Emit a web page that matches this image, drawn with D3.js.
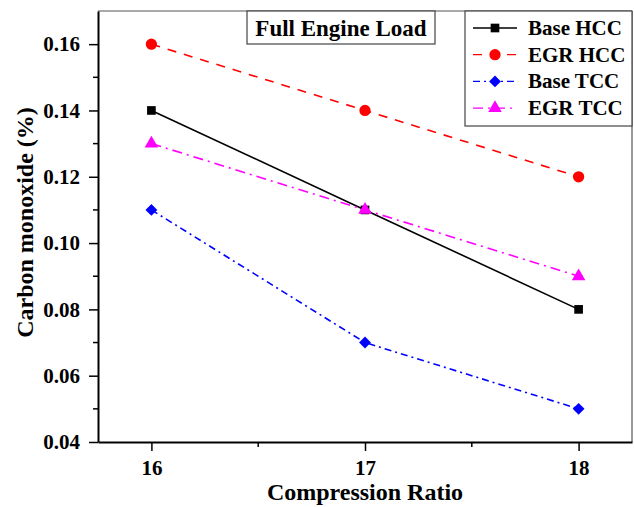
<!DOCTYPE html>
<html>
<head>
<meta charset="utf-8">
<script src="https://cdn.jsdelivr.net/npm/d3@7"></script>
<style>
  body { margin: 0; background: #fff; }
  text { font-family: 'Liberation Serif', 'Times New Roman', serif; font-weight: bold; }
</style>
</head>
<body>
<div id="chart"></div>
<script>
const ratios = [16, 17, 18]
const baseHCC = [0.14, 0.11, 0.08]
const egrHCC = [0.16, 0.14, 0.12]
const baseTCC = [0.11, 0.07, 0.05]
const egrTCC = [0.13, 0.11, 0.09]
const yTicks = [0.04, 0.06, 0.08, 0.10, 0.12, 0.14, 0.16]

// square rotated 45 deg, wider than d3.symbolDiamond
const fatDiamond = {
  draw (context, size) {
    const r = Math.sqrt(size / 2)
    context.moveTo(0, -r)
    context.lineTo(r, 0)
    context.lineTo(0, r)
    context.lineTo(-r, 0)
    context.closePath()
  }
}

const series = [
  { name: 'Base HCC', values: baseHCC, color: '#000000', dash: null, symbol: d3.symbolSquare, size: 75 },
  { name: 'EGR HCC', values: egrHCC, color: '#ff0000', dash: '9,8', symbol: d3.symbolCircle, size: 100 },
  { name: 'Base TCC', values: baseTCC, color: '#0000ff', dash: '7,4,2,4', symbol: fatDiamond, size: 70 },
  { name: 'EGR TCC', values: egrTCC, color: '#ff00ff', dash: '10,5,2,5', symbol: d3.symbolTriangle, size: 80 }
]

const margin = { top: 11, right: 2, bottom: 65, left: 98 }
const width = 634 - margin.left - margin.right
const height = 507 - margin.top - margin.bottom

const svg = d3.select('#chart')
  .append('svg')
  .attr('width', 634)
  .attr('height', 507)
  .append('g')
  .attr('transform', 'translate(' + margin.left + ',' + margin.top + ')')

const x = d3.scaleLinear().domain([15.75, 18.25]).range([0, width])
const y = d3.scaleLinear().domain([0.04, 0.17]).range([height, 0])

// frame: top and right thin
svg.append('line').attr('x1', 0).attr('x2', width).attr('y1', 0).attr('y2', 0)
  .attr('stroke', '#555').attr('stroke-width', 1.2)
svg.append('line').attr('x1', width).attr('x2', width).attr('y1', 0).attr('y2', height)
  .attr('stroke', '#555').attr('stroke-width', 1.2)

// minor ticks
const xMinor = [16.5, 17.5]
const yMinor = [0.05, 0.07, 0.09, 0.11, 0.13, 0.15]
svg.selectAll('.xminor').data(xMinor).enter().append('line')
  .attr('x1', d => x(d)).attr('x2', d => x(d))
  .attr('y1', height).attr('y2', height + 5)
  .attr('stroke', '#000').attr('stroke-width', 1.5)
svg.selectAll('.yminor').data(yMinor).enter().append('line')
  .attr('x1', 0).attr('x2', -5)
  .attr('y1', d => y(d)).attr('y2', d => y(d))
  .attr('stroke', '#000').attr('stroke-width', 1.5)

const xAxis = svg.append('g')
  .attr('transform', 'translate(0,' + height + ')')
  .call(d3.axisBottom(x).tickValues(ratios).tickSize(9).tickSizeOuter(0).tickPadding(9).tickFormat(d3.format('d')))
xAxis.select('.domain').attr('stroke-width', 2)
xAxis.selectAll('.tick line').attr('stroke-width', 1.5)
xAxis.selectAll('text').attr('font-size', 21).attr('fill', '#000')
  .style('font-family', "'Liberation Serif', serif").style('font-weight', 'bold')

const yAxis = svg.append('g')
  .call(d3.axisLeft(y).tickValues(yTicks).tickSize(9).tickSizeOuter(0).tickPadding(9).tickFormat(d3.format('.2f')))
yAxis.select('.domain').attr('stroke-width', 2)
yAxis.selectAll('.tick line').attr('stroke-width', 1.5)
yAxis.selectAll('text').attr('font-size', 21).attr('fill', '#000')
  .style('font-family', "'Liberation Serif', serif").style('font-weight', 'bold')

// axis titles
svg.append('text')
  .attr('x', x(17)).attr('y', height + 58)
  .attr('text-anchor', 'middle').attr('font-size', 24)
  .text('Compression Ratio')
svg.append('text')
  .attr('transform', 'translate(' + (-65) + ',' + (height / 2 - 4) + ') rotate(-90)')
  .attr('text-anchor', 'middle').attr('font-size', 24)
  .text('Carbon monoxide (%)')

// lines
const line = d3.line().x((d, i) => x(ratios[i])).y(d => y(d))
series.forEach(s => {
  svg.append('path')
    .datum(s.values)
    .attr('d', line)
    .attr('fill', 'none')
    .attr('stroke', s.color)
    .attr('stroke-width', 1.6)
    .attr('stroke-dasharray', s.dash)
  svg.selectAll(null)
    .data(s.values)
    .enter()
    .append('path')
    .attr('d', d3.symbol().type(s.symbol).size(s.size))
    .attr('transform', (d, i) => 'translate(' + x(ratios[i]) + ',' + y(d) + ')')
    .attr('fill', s.color)
})

// title box
const title = svg.append('g').attr('transform', 'translate(' + (247 - margin.left) + ',0)')
title.append('rect').attr('width', 188).attr('height', 33)
  .attr('fill', '#fff').attr('stroke', '#444').attr('stroke-width', 1.2)
title.append('text').attr('x', 94).attr('y', 25).attr('text-anchor', 'middle')
  .attr('font-size', 23).text('Full Engine Load')

// legend
const legend = svg.append('g').attr('transform', 'translate(' + (465 - margin.left) + ',0)')
legend.append('rect').attr('width', 167).attr('height', 115)
  .attr('fill', '#fff').attr('stroke', '#444').attr('stroke-width', 1.2)
const items = legend.selectAll('.item').data(series).enter().append('g')
  .attr('transform', (d, i) => 'translate(0,' + (17 + i * 26.7) + ')')
items.append('line').attr('x1', 8).attr('x2', 52)
  .attr('stroke', d => d.color).attr('stroke-width', 1.3)
  .attr('stroke-dasharray', d => d.dash)
items.append('path')
  .attr('d', d => d3.symbol().type(d.symbol).size(d.size)())
  .attr('transform', 'translate(30,0)')
  .attr('fill', d => d.color)
items.append('text').attr('x', 63).attr('y', 7)
  .attr('font-size', 21).text(d => d.name)
</script>
</body>
</html>
